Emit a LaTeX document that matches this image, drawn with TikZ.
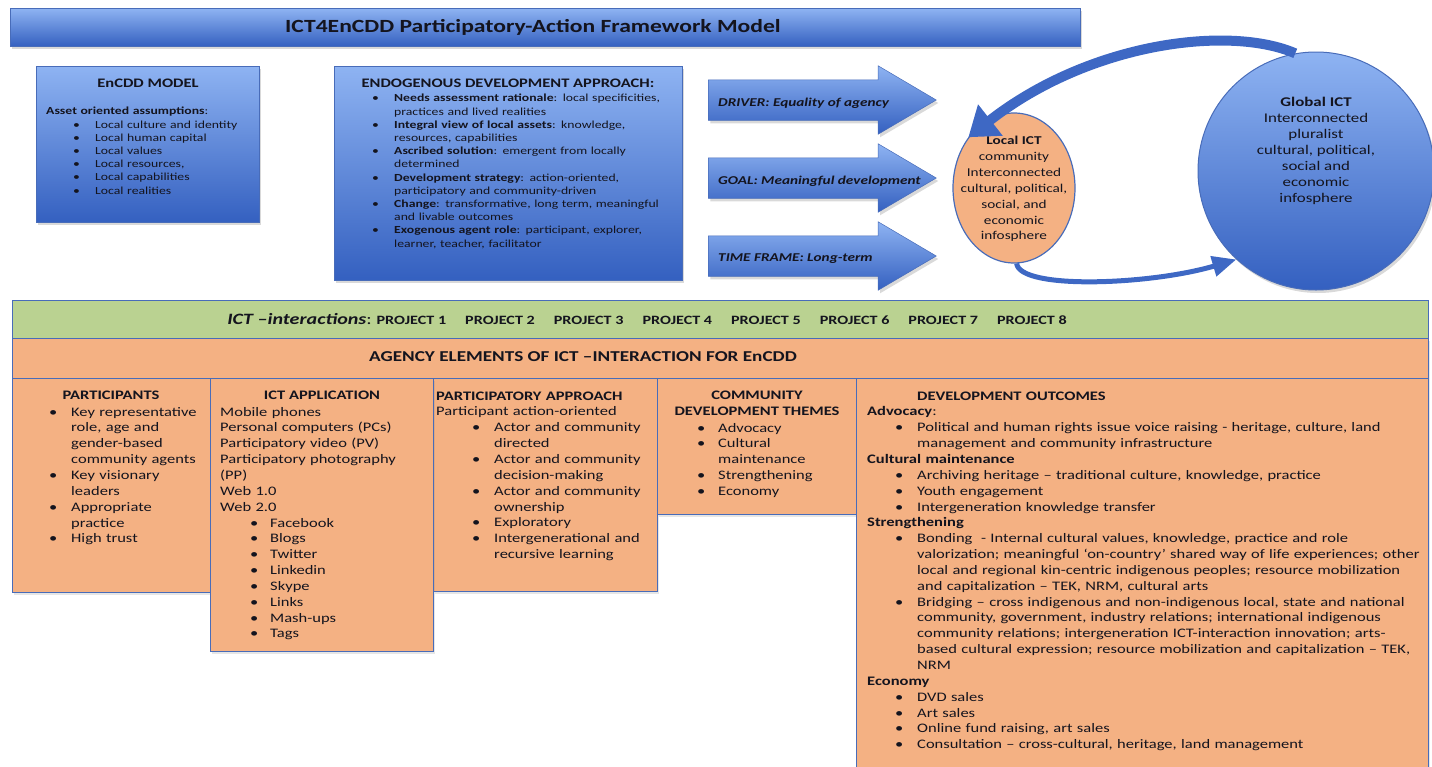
\documentclass[tikz,border=0pt]{standalone}
\usepackage{fontspec}
\setmainfont{Carlito}[FakeStretch=1.27]
\usetikzlibrary{shapes.geometric,shapes.arrows,arrows.meta,shadows}

\definecolor{boxline}{RGB}{72,108,185}
\definecolor{bluetop}{RGB}{142,179,242}
\definecolor{bluebot}{RGB}{52,96,192}
\definecolor{agency}{RGB}{244,177,131}
\definecolor{projgreen}{RGB}{186,210,145}
\definecolor{curvblue}{RGB}{62,104,196}
\definecolor{ink}{RGB}{20,20,30}

\newcommand{\fs}[2]{\fontsize{#1}{#2}\selectfont}
\newlength{\bulx}
\newlength{\txtx}
\newcommand{\hd}[1]{\par\noindent#1}
\newcommand{\bitem}[1]{\par\noindent\hangindent=\txtx\hangafter=1\hspace*{\bulx}\makebox[\dimexpr\txtx-\bulx\relax][l]{\textbullet}#1}

\begin{document}
\begin{tikzpicture}[
    x=1pt, y=1pt,
    bluebox/.style={draw=boxline, line width=0.8pt, top color=bluetop, bottom color=bluebot, anchor=north west, inner sep=0pt,
        drop shadow={opacity=0.3, shadow xshift=2pt, shadow yshift=-3pt}},
    orangebox/.style={draw=boxline, line width=1.1pt, fill=agency, anchor=north west, inner sep=0pt,
        drop shadow={opacity=0.2, shadow xshift=1.5pt, shadow yshift=-2pt}},
    bigarrow/.style={single arrow, draw=boxline, line width=0.5pt, top color=bluetop, bottom color=bluebot,
        minimum height=228, inner xsep=0pt, inner ysep=20pt, single arrow head extend=14pt, single arrow tip angle=61,
        anchor=tail, drop shadow={opacity=0.3, shadow xshift=2pt, shadow yshift=-3pt}},
    arrtext/.style={anchor=west, inner sep=0pt, font=\fs{12}{14}\bfseries\itshape, text=ink},
    txt/.style={anchor=north west, inner sep=0pt, align=left, text width=#1, text=ink},
    indents/.style 2 args={execute at begin node={\setlength{\bulx}{#1}\setlength{\txtx}{#2}}},
    head/.style={inner sep=0pt, font=\fs{13}{15.85}\bfseries, text=ink, align=center},
    curvy/.style={draw=curvblue},
]
\useasboundingbox (0,0) rectangle (1432,-766);

% Title bar
\node[bluebox, minimum width=1070, minimum height=38] (title) at (10,-8) {};
\node[inner sep=0pt, font=\fs{18.6}{20}\bfseries, text=ink] (titleT) at (533,-27) {ICT4EnCDD Participatory-Action Framework Model};

% EnCDD model
\node[bluebox, minimum width=223, minimum height=156] (encdd) at (36,-66) {};
\node[head] (encddH) at (148,-83) {EnCDD MODEL};
\node[txt=205, indents={27pt}{49pt}, font=\fs{10.8}{13.2}] (encddT) at (46,-101.5) {%
  \hd{\textbf{Asset oriented assumptions}:}
  \bitem{Local culture and identity}
  \bitem{Local human capital}
  \bitem{Local values}
  \bitem{Local resources,}
  \bitem{Local capabilities}
  \bitem{Local realities}\par};

% Endogenous development approach
\node[bluebox, minimum width=348, minimum height=214] (endo) at (334,-66) {};
\node[head] (endoH) at (508,-83) {ENDOGENOUS DEVELOPMENT APPROACH:};
\node[txt=330, indents={26pt}{48pt}, font=\fs{10.8}{13.2}] (endoT) at (346,-88.5) {%
  \bitem{\textbf{Needs assessment rationale}: local specificities,\newline practices and lived realities}
  \bitem{\textbf{Integral view of local assets}: knowledge,\newline resources, capabilities}
  \bitem{\textbf{Ascribed solution}: emergent from locally\newline determined}
  \bitem{\textbf{Development strategy}: action-oriented,\newline participatory and community-driven}
  \bitem{\textbf{Change}: transformative, long term, meaningful\newline and livable outcomes}
  \bitem{\textbf{Exogenous agent role}: participant, explorer,\newline learner, teacher, facilitator}\par};

% Block arrows
\node[bigarrow] (arr1) at (708,-100) {};
\node[bigarrow] (arr2) at (708,-178) {};
\node[bigarrow] (arr3) at (708,-256) {};
\node[arrtext] (driver) at (718,-103) {DRIVER: Equality of agency};
\node[arrtext] (goal) at (718,-181) {GOAL: Meaningful development};
\node[arrtext] (timeframe) at (718,-259) {TIME FRAME: Long-term};

% Local and global ICT
\node[ellipse, draw=boxline, line width=1.2pt, fill=agency, minimum width=122, minimum height=150, inner sep=0pt] (loc) at (1014,-188) {};
\node[align=center, inner sep=0pt, font=\fs{12}{15.9}, text=ink] (locT) at (1014,-189)
  {\textbf{Local ICT}\\community\\Interconnected\\cultural, political,\\social, and\\economic\\infosphere};
\node[ellipse, draw=boxline, line width=1pt, top color=bluetop, bottom color=bluebot, minimum width=236, minimum height=238,
      inner sep=0pt, drop shadow={opacity=0.3, shadow xshift=2pt, shadow yshift=-3pt}] (glob) at (1316,-171) {};
\node[align=center, inner sep=0pt, font=\fs{13.3}{15.9}, text=ink] (globT) at (1316,-151)
  {\textbf{Global ICT}\\Interconnected\\pluralist\\cultural, political,\\social and\\economic\\infosphere};

% Curved arrows between the two spheres
\draw[curvy, line width=10pt, -{Triangle[width=38pt,length=28pt]}]
  (glob.100) .. controls (1230,-25) and (1090,-42) .. (loc.132);
\draw[curvy, line width=5pt, -{Triangle[width=20pt,length=24pt]}]
  (loc.272) .. controls (1020,-290) and (1150,-285) .. (glob.228);

% ICT interactions bar
\node[draw=boxline, line width=1.1pt, fill=projgreen, anchor=north west, inner sep=0pt,
      minimum width=1416, minimum height=38] (proj) at (12,-300) {};
\node[anchor=east, inner sep=0pt, font=\fs{12.7}{15}, text=ink] (projT) at (1067,-319)
  {{\fs{15.8}{17}\textbf{\textit{ICT –interactions}}:} \textbf{PROJECT 1}\hspace{19pt}\textbf{PROJECT 2}\hspace{19pt}\textbf{PROJECT 3}\hspace{19pt}\textbf{PROJECT 4}\hspace{19pt}\textbf{PROJECT 5}\hspace{19pt}\textbf{PROJECT 6}\hspace{19pt}\textbf{PROJECT 7}\hspace{19pt}\textbf{PROJECT 8}};

% Agency elements
\node[orangebox, minimum width=1416, minimum height=40] (agency) at (12,-338) {};
\node[head, font=\fs{15.1}{17}\bfseries, anchor=east] (agencyT) at (797,-357) {AGENCY ELEMENTS OF ICT –INTERACTION FOR EnCDD};

\node[orangebox, minimum width=200, minimum height=214] (part) at (12,-378) {};
\node[orangebox, minimum width=224, minimum height=213] (appr) at (433,-378) {};
\node[orangebox, minimum width=199, minimum height=136] (theme) at (657,-378) {};
\node[orangebox, minimum width=572, minimum height=400] (outc) at (856,-378) {};
\node[orangebox, minimum width=223, minimum height=273] (app) at (210,-378) {};

% Participants
\node[head] (partH) at (111,-395) {PARTICIPANTS};
\node[txt=185, indents={27pt}{49pt}, font=\fs{13}{15.85}] (partT) at (22,-400) {%
  \bitem{Key representative\newline role, age and\newline gender-based\newline community agents}
  \bitem{Key visionary\newline leaders}
  \bitem{Appropriate\newline practice}
  \bitem{High trust}\par};

% ICT application
\node[head] (appH) at (322,-395) {ICT APPLICATION};
\node[txt=210, indents={30pt}{50pt}, font=\fs{13}{15.85}] (appT) at (220,-400) {%
  \hd{Mobile phones}
  \hd{Personal computers (PCs)}
  \hd{Participatory video (PV)}
  \hd{Participatory photography\newline (PP)}
  \hd{Web 1.0}
  \hd{Web 2.0}
  \bitem{Facebook}
  \bitem{Blogs}
  \bitem{Twitter}
  \bitem{Linkedin}
  \bitem{Skype}
  \bitem{Links}
  \bitem{Mash-ups}
  \bitem{Tags}\par};

% Participatory approach
\node[txt=220, indents={36pt}{58pt}, font=\fs{13}{15.85}] (apprT) at (436,-384) {%
  \hd{\textbf{PARTICIPATORY APPROACH}}
  \hd{Participant action-oriented}
  \bitem{Actor and community\newline directed}
  \bitem{Actor and community\newline decision-making}
  \bitem{Actor and community\newline ownership}
  \bitem{Exploratory}
  \bitem{Intergenerational and\newline recursive learning}\par};

% Community development themes
\node[head] (themeH) at (757,-403) {COMMUNITY\\DEVELOPMENT THEMES};
\node[txt=185, indents={30pt}{51pt}, font=\fs{13}{15.85}] (themeT) at (667,-416) {%
  \bitem{Advocacy}
  \bitem{Cultural\newline maintenance}
  \bitem{Strengthening}
  \bitem{Economy}\par};

% Development outcomes
\node[txt=560, indents={28pt}{50pt}, font=\fs{13}{15.85}] (outcT) at (867,-384) {%
  \hd{\hspace*{50pt}\textbf{DEVELOPMENT OUTCOMES}}
  \hd{\textbf{Advocacy}:}
  \bitem{Political and human rights issue voice raising - heritage, culture, land\newline management and community infrastructure}
  \hd{\textbf{Cultural maintenance}}
  \bitem{Archiving heritage – traditional culture, knowledge, practice}
  \bitem{Youth engagement}
  \bitem{Intergeneration knowledge transfer}
  \hd{\textbf{Strengthening}}
  \bitem{Bonding\ \ - Internal cultural values, knowledge, practice and role\newline valorization; meaningful ‘on-country’ shared way of life experiences; other\newline local and regional kin-centric indigenous peoples; resource mobilization\newline and capitalization – TEK, NRM, cultural arts}
  \bitem{Bridging – cross indigenous and non-indigenous local, state and national\newline community, government, industry relations; international indigenous\newline community relations; intergeneration ICT-interaction innovation; arts-\newline based cultural expression; resource mobilization and capitalization – TEK,\newline NRM}
  \hd{\textbf{Economy}}
  \bitem{DVD sales}
  \bitem{Art sales}
  \bitem{Online fund raising, art sales}
  \bitem{Consultation – cross-cultural, heritage, land management}\par};

\end{tikzpicture}
\end{document}
